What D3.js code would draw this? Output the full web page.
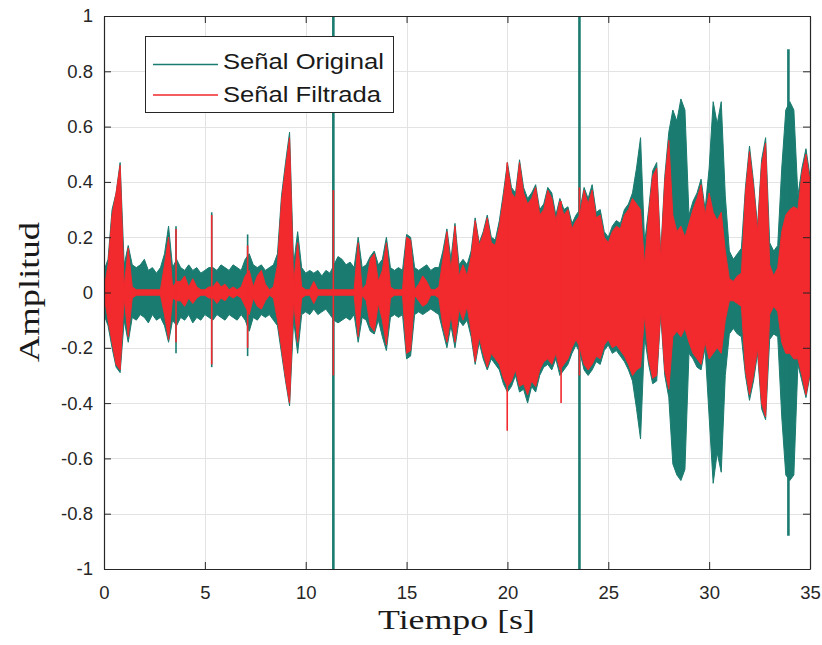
<!DOCTYPE html>
<html>
<head>
<meta charset="utf-8">
<script src="https://cdn.jsdelivr.net/npm/d3@7"></script>
<style>
  html, body { margin: 0; padding: 0; background: #ffffff; }
  svg { display: block; }
</style>
</head>
<body>
<script>
// ---------------- DATA ----------------
const timeStep = 0.2; // seconds between envelope samples (0 .. 35 s)

// Original signal envelope (upper / lower), one value per 0.2 s
const origHi = [
  0.08,0.12,0.30,0.36,0.47,0.10,0.17,0.10,0.09,0.10,
  0.12,0.08,0.09,0.07,0.09,0.14,0.24,0.09,0.12,0.09,
  0.08,0.10,0.08,0.09,0.07,0.08,0.09,0.09,0.08,0.10,
  0.09,0.08,0.10,0.09,0.08,0.12,0.14,0.10,0.09,0.10,
  0.08,0.09,0.10,0.14,0.35,0.47,0.58,0.10,0.22,0.09,
  0.07,0.08,0.07,0.08,0.06,0.08,0.07,0.10,0.13,0.12,
  0.10,0.11,0.09,0.20,0.09,0.10,0.13,0.15,0.10,0.12,
  0.20,0.09,0.08,0.09,0.08,0.21,0.20,0.09,0.08,0.09,
  0.10,0.08,0.09,0.09,0.15,0.23,0.12,0.25,0.10,0.12,
  0.10,0.15,0.27,0.18,0.22,0.28,0.20,0.19,0.26,0.36,
  0.47,0.38,0.36,0.48,0.38,0.34,0.36,0.39,0.30,0.32,
  0.38,0.36,0.28,0.34,0.30,0.31,0.25,0.28,0.30,0.38,
  0.34,0.39,0.29,0.30,0.22,0.20,0.24,0.26,0.25,0.30,
  0.32,0.36,0.45,0.56,0.18,0.30,0.44,0.47,0.14,0.42,
  0.58,0.66,0.62,0.70,0.66,0.28,0.33,0.36,0.41,0.30,
  0.45,0.69,0.61,0.69,0.35,0.15,0.12,0.14,0.16,0.38,
  0.53,0.40,0.24,0.48,0.56,0.18,0.15,0.17,0.45,0.66,
  0.69,0.66,0.35,0.45,0.52,0.42
];
const origLo = [
  -0.08,-0.12,-0.20,-0.27,-0.29,-0.10,-0.18,-0.09,-0.10,-0.08,
  -0.09,-0.11,-0.08,-0.10,-0.09,-0.12,-0.18,-0.10,-0.12,-0.09,
  -0.10,-0.08,-0.11,-0.09,-0.10,-0.08,-0.09,-0.10,-0.08,-0.09,
  -0.10,-0.08,-0.09,-0.10,-0.08,-0.10,-0.14,-0.09,-0.10,-0.08,
  -0.09,-0.08,-0.10,-0.12,-0.22,-0.32,-0.41,-0.10,-0.22,-0.08,
  -0.07,-0.08,-0.06,-0.08,-0.07,-0.06,-0.08,-0.10,-0.11,-0.10,
  -0.09,-0.10,-0.08,-0.18,-0.09,-0.10,-0.14,-0.15,-0.10,-0.16,
  -0.21,-0.09,-0.08,-0.09,-0.08,-0.24,-0.23,-0.08,-0.07,-0.08,
  -0.07,-0.06,-0.07,-0.08,-0.14,-0.20,-0.12,-0.20,-0.10,-0.12,
  -0.10,-0.16,-0.26,-0.18,-0.24,-0.28,-0.24,-0.26,-0.28,-0.33,
  -0.36,-0.34,-0.30,-0.36,-0.35,-0.40,-0.34,-0.36,-0.30,-0.27,
  -0.26,-0.28,-0.24,-0.30,-0.28,-0.26,-0.22,-0.19,-0.22,-0.28,
  -0.30,-0.28,-0.25,-0.26,-0.21,-0.19,-0.22,-0.21,-0.23,-0.25,
  -0.28,-0.32,-0.42,-0.53,-0.16,-0.26,-0.33,-0.32,-0.08,-0.30,
  -0.38,-0.62,-0.66,-0.68,-0.64,-0.22,-0.24,-0.27,-0.28,-0.20,
  -0.45,-0.69,-0.58,-0.65,-0.30,-0.15,-0.13,-0.15,-0.16,-0.30,
  -0.39,-0.32,-0.22,-0.42,-0.46,-0.17,-0.15,-0.16,-0.45,-0.66,
  -0.68,-0.66,-0.26,-0.32,-0.38,-0.30
];

// Filtered signal envelope (upper / lower), one value per 0.2 s
const filtHi = [
  0.01,0.10,0.28,0.36,0.46,0.02,0.16,0.02,0.01,0.01,
  0.01,0.01,0.01,0.01,0.01,0.10,0.20,0.02,0.04,0.04,
  0.06,0.02,0.05,0.02,0.01,0.01,0.02,0.02,0.04,0.02,
  0.03,0.01,0.02,0.01,0.02,0.06,0.08,0.02,0.06,0.08,
  0.03,0.01,0.02,0.10,0.33,0.45,0.56,0.03,0.18,0.02,
  0.01,0.01,0.04,0.01,0.01,0.01,0.01,0.01,0.01,0.01,
  0.01,0.01,0.01,0.18,0.01,0.03,0.12,0.14,0.04,0.08,
  0.18,0.02,0.01,0.01,0.01,0.20,0.19,0.01,0.03,0.06,
  0.04,0.01,0.01,0.02,0.12,0.22,0.08,0.24,0.06,0.10,
  0.06,0.13,0.26,0.17,0.21,0.27,0.18,0.17,0.24,0.34,
  0.46,0.36,0.34,0.47,0.36,0.32,0.34,0.38,0.28,0.30,
  0.37,0.34,0.26,0.33,0.28,0.30,0.23,0.26,0.28,0.37,
  0.32,0.37,0.27,0.28,0.20,0.18,0.22,0.24,0.23,0.28,
  0.30,0.34,0.32,0.30,0.10,0.28,0.42,0.45,0.12,0.40,
  0.55,0.28,0.22,0.24,0.20,0.25,0.30,0.34,0.39,0.28,
  0.36,0.29,0.26,0.29,0.15,0.05,0.04,0.06,0.07,0.36,
  0.51,0.38,0.22,0.46,0.54,0.10,0.06,0.09,0.22,0.28,
  0.30,0.31,0.30,0.43,0.50,0.40
];
const filtLo = [
  -0.01,-0.10,-0.18,-0.26,-0.28,-0.02,-0.16,-0.02,-0.01,-0.01,
  -0.01,-0.01,-0.01,-0.01,-0.01,-0.08,-0.17,-0.02,-0.03,-0.03,
  -0.05,-0.02,-0.04,-0.02,-0.01,-0.01,-0.02,-0.02,-0.04,-0.02,
  -0.03,-0.01,-0.02,-0.01,-0.02,-0.05,-0.08,-0.02,-0.05,-0.06,
  -0.03,-0.01,-0.02,-0.10,-0.20,-0.31,-0.40,-0.03,-0.18,-0.02,
  -0.01,-0.01,-0.04,-0.01,-0.01,-0.01,-0.01,-0.01,-0.01,-0.01,
  -0.01,-0.01,-0.01,-0.16,-0.01,-0.03,-0.12,-0.14,-0.04,-0.10,
  -0.19,-0.02,-0.01,-0.01,-0.01,-0.22,-0.21,-0.01,-0.03,-0.05,
  -0.04,-0.01,-0.01,-0.02,-0.12,-0.18,-0.08,-0.18,-0.06,-0.10,
  -0.05,-0.14,-0.25,-0.16,-0.22,-0.27,-0.22,-0.24,-0.26,-0.31,
  -0.34,-0.32,-0.28,-0.34,-0.33,-0.37,-0.32,-0.34,-0.28,-0.25,
  -0.24,-0.26,-0.22,-0.28,-0.26,-0.24,-0.20,-0.17,-0.20,-0.26,
  -0.28,-0.26,-0.23,-0.24,-0.19,-0.17,-0.20,-0.19,-0.21,-0.23,
  -0.26,-0.30,-0.28,-0.27,-0.08,-0.24,-0.31,-0.30,-0.06,-0.28,
  -0.35,-0.16,-0.14,-0.16,-0.13,-0.18,-0.22,-0.24,-0.26,-0.18,
  -0.24,-0.22,-0.20,-0.22,-0.10,-0.03,-0.03,-0.04,-0.05,-0.28,
  -0.37,-0.30,-0.20,-0.40,-0.45,-0.08,-0.05,-0.07,-0.18,-0.22,
  -0.22,-0.24,-0.24,-0.30,-0.37,-0.29
];

// Isolated narrow spikes (clicks)
const origSpikeT  = [3.57, 5.34, 7.12, 11.37, 23.57, 33.93];
const origSpikeHi = [0.24, 0.29, 0.21, 1.00, 1.00, 0.88];
const origSpikeLo = [-0.22, -0.27, -0.23, -1.00, -1.00, -0.88];
const filtSpikeT  = [3.57, 5.34, 7.12, 11.37, 19.99, 22.66, 23.57];
const filtSpikeHi = [0.23, 0.28, 0.17, 0.37, 0.47, 0.33, 0.38];
const filtSpikeLo = [-0.18, -0.26, -0.20, -0.30, -0.50, -0.40, -0.30];

const xTicks = [0, 5, 10, 15, 20, 25, 30, 35];
const xTickLabels = ["0", "5", "10", "15", "20", "25", "30", "35"];
const yTicks = [-1, -0.8, -0.6, -0.4, -0.2, 0, 0.2, 0.4, 0.6, 0.8, 1];
const yTickLabels = ["-1", "-0.8", "-0.6", "-0.4", "-0.2", "0", "0.2", "0.4", "0.6", "0.8", "1"];
const seriesNames = ["Señal Original", "Señal Filtrada"];
const seriesColors = ["#1a7b70", "#f2292d"];

// ---------------- CHART ----------------
const W = 822, H = 645;
const L = 104, R = 810, T = 16, B = 569;
const tickFont = "'Liberation Sans', Arial, Helvetica, sans-serif";
const serifFont = "'Liberation Serif', 'Times New Roman', serif";

const svg = d3.select("body").append("svg").attr("width", W).attr("height", H);

const x = d3.scaleLinear().domain([0, 35]).range([L, R]);
const y = d3.scaleLinear().domain([-1, 1]).range([B, T]);

// grid
const grid = svg.append("g").attr("stroke", "#e3e3e3").attr("stroke-width", 1);
grid.selectAll("line.gx").data(xTicks).join("line")
  .attr("x1", d => Math.round(x(d)) + 0.5).attr("x2", d => Math.round(x(d)) + 0.5)
  .attr("y1", T).attr("y2", B);
grid.selectAll("line.gy").data(yTicks).join("line")
  .attr("x1", L).attr("x2", R)
  .attr("y1", d => Math.round(y(d)) + 0.5).attr("y2", d => Math.round(y(d)) + 0.5);

svg.append("clipPath").attr("id", "clip").append("rect")
  .attr("x", L).attr("y", T).attr("width", R - L).attr("height", B - T);

const plot = svg.append("g").attr("clip-path", "url(#clip)");

function envelope(hi, lo) {
  return hi.map((h, i) => ({ t: i * timeStep, hi: h, lo: lo[i] }));
}
const area = d3.area().x(d => x(d.t)).y0(d => y(d.lo)).y1(d => y(d.hi));

function drawSeries(hi, lo, sT, sHi, sLo, color, spikeW) {
  plot.append("path").datum(envelope(hi, lo))
    .attr("d", area).attr("fill", color)
    .attr("stroke", color).attr("stroke-width", 1).attr("stroke-linejoin", "miter");
  plot.selectAll(null).data(sT.map((t, i) => ({ t, hi: sHi[i], lo: sLo[i] }))).join("line")
    .attr("x1", d => x(d.t)).attr("x2", d => x(d.t))
    .attr("y1", d => y(d.hi)).attr("y2", d => y(d.lo))
    .attr("stroke", color).attr("stroke-width", d => Math.abs(d.hi) > 0.8 ? spikeW : 1.6);
}
drawSeries(origHi, origLo, origSpikeT, origSpikeHi, origSpikeLo, seriesColors[0], 2.6);
drawSeries(filtHi, filtLo, filtSpikeT, filtSpikeHi, filtSpikeLo, seriesColors[1], 1.6);

// axes
const axisColor = "#262626";
function styleAxis(g) {
  g.select(".domain").attr("stroke", axisColor).attr("stroke-width", 1.2);
  g.selectAll(".tick line").attr("stroke", axisColor).attr("stroke-width", 1);
  g.selectAll(".tick text").attr("fill", axisColor)
    .attr("font-family", tickFont).attr("font-size", 18.5);
}
svg.append("g").attr("transform", `translate(0,${B})`)
  .call(d3.axisBottom(x).tickValues(xTicks).tickFormat((d, i) => xTickLabels[i])
    .tickSizeInner(-7).tickSizeOuter(0).tickPadding(17))
  .call(styleAxis);
svg.append("g").attr("transform", `translate(0,${T})`)
  .call(d3.axisTop(x).tickValues(xTicks).tickFormat("").tickSizeInner(-7).tickSizeOuter(0))
  .call(styleAxis);
svg.append("g").attr("transform", `translate(${L},0)`)
  .call(d3.axisLeft(y).tickValues(yTicks).tickFormat((d, i) => yTickLabels[i])
    .tickSizeInner(-7).tickSizeOuter(0).tickPadding(11))
  .call(styleAxis);
svg.append("g").attr("transform", `translate(${R},0)`)
  .call(d3.axisRight(y).tickValues(yTicks).tickFormat("").tickSizeInner(-7).tickSizeOuter(0))
  .call(styleAxis);

// axis titles
svg.append("text").attr("x", 456.5).attr("y", 628.5).attr("text-anchor", "middle")
  .attr("font-family", serifFont).attr("font-size", 27).attr("fill", "#1a1a1a")
  .attr("textLength", 157).attr("lengthAdjust", "spacingAndGlyphs")
  .text("Tiempo [s]");
svg.append("text").attr("transform", "translate(39,292) rotate(-90)")
  .attr("text-anchor", "middle")
  .attr("font-family", serifFont).attr("font-size", 29).attr("fill", "#1a1a1a")
  .attr("textLength", 140).attr("lengthAdjust", "spacingAndGlyphs")
  .text("Amplitud");

// legend
const lg = svg.append("g");
lg.append("rect").attr("x", 145.5).attr("y", 36.5).attr("width", 248).attr("height", 76)
  .attr("fill", "#ffffff").attr("stroke", axisColor).attr("stroke-width", 1);
const rowsY = [64.5, 95];
const textBase = [68.5, 101.5];
const textLens = [161, 158];
seriesNames.forEach((name, i) => {
  lg.append("line").attr("x1", 153).attr("x2", 218).attr("y1", rowsY[i]).attr("y2", rowsY[i])
    .attr("stroke", seriesColors[i]).attr("stroke-width", 1.3);
  lg.append("text").attr("x", 223).attr("y", textBase[i])
    .attr("font-family", tickFont).attr("font-size", 22.5).attr("fill", "#1a1a1a")
    .attr("textLength", textLens[i]).attr("lengthAdjust", "spacingAndGlyphs")
    .text(name);
});
</script>
</body>
</html>
